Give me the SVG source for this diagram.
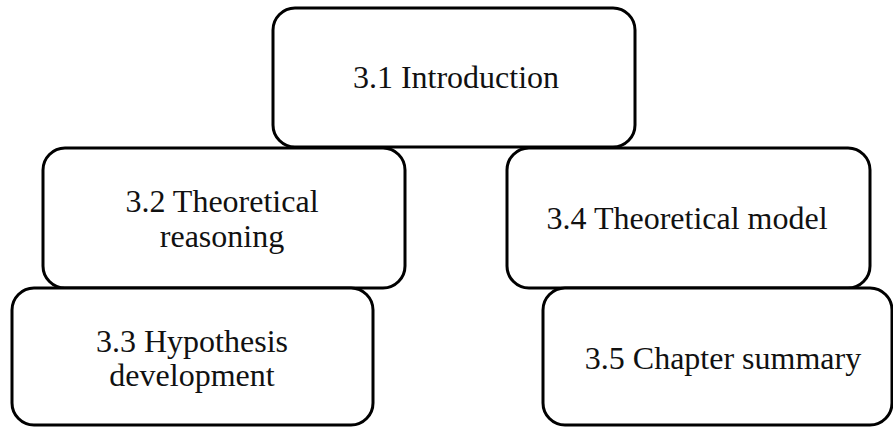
<svg xmlns="http://www.w3.org/2000/svg" width="893" height="428" viewBox="0 0 893 428">
  <style>
    .box { fill: #ffffff; stroke: #000000; stroke-width: 3; }
    .label { font-family: "Liberation Serif", "Times New Roman", serif; font-size: 32px; fill: #111111; text-anchor: middle; }
  </style>
  <rect width="893" height="428" fill="#ffffff"/>

  <g id="n31">
    <rect class="box" x="273" y="8" width="362" height="139" rx="22" ry="22"/>
    <text class="label" x="456" y="88">3.1 Introduction</text>
  </g>

  <g id="n32">
    <rect class="box" x="43" y="148" width="362" height="140" rx="22" ry="22"/>
    <text class="label" x="222" y="212">3.2 Theoretical</text>
    <text class="label" x="222" y="247">reasoning</text>
  </g>

  <g id="n34">
    <rect class="box" x="507" y="148" width="363" height="140" rx="22" ry="22"/>
    <text class="label" x="687" y="229">3.4 Theoretical model</text>
  </g>

  <g id="n33">
    <rect class="box" x="12" y="288" width="361" height="137" rx="22" ry="22"/>
    <text class="label" x="192" y="352">3.3 Hypothesis</text>
    <text class="label" x="192" y="386">development</text>
  </g>

  <g id="n35">
    <rect class="box" x="543" y="288" width="349" height="137" rx="22" ry="22"/>
    <text class="label" x="723" y="369">3.5 Chapter summary</text>
  </g>

  <g id="connectors"/>
</svg>
